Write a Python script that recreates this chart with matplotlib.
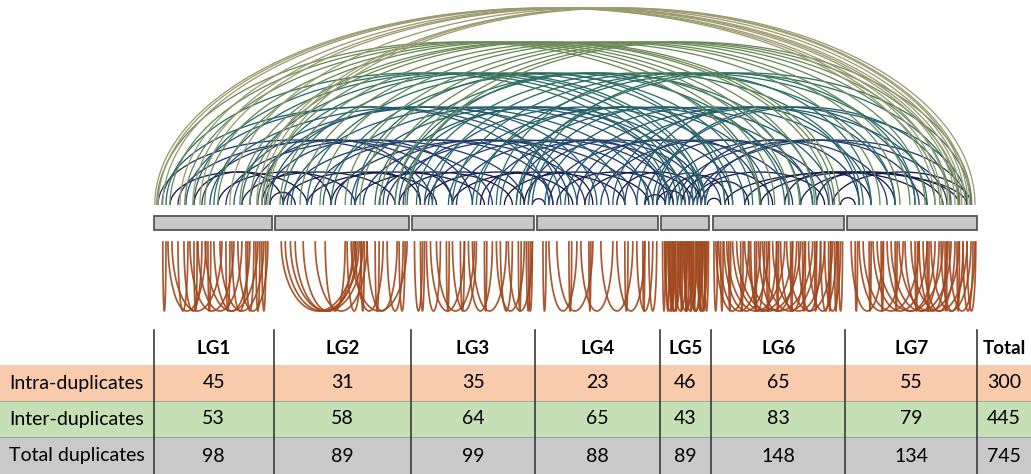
import numpy as np
import matplotlib
matplotlib.use("Agg")
import matplotlib.pyplot as plt
from matplotlib.patches import Rectangle

plt.rcParams['font.family'] = ['Lato', 'DejaVu Sans']

# linkage groups and their lengths (Mb)
lg_names = ["LG1", "LG2", "LG3", "LG4", "LG5", "LG6", "LG7"]
lg_lengths = [29.5, 33.5, 30.3, 30.3, 12.0, 32.8, 32.5]

# duplicate counts per linkage group
intra_counts = [45, 31, 35, 23, 46, 65, 55]
inter_counts = [53, 58, 64, 65, 43, 83, 79]
total_counts = [98, 89, 99, 88, 89, 148, 134]
row_labels = ["Intra-duplicates", "Inter-duplicates", "Total duplicates"]

# inter-chromosomal duplicate pairs: (lg_a, pos_a, lg_b, pos_b), positions in Mb
inter_links = [
    # LG1 - LG7
    (1, 0.2, 7, 22.0), (1, 1.0, 7, 23.7), (1, 2.2, 7, 25.2), (1, 6.5, 7, 27.0),
    (1, 9.7, 7, 27.7), (1, 11.5, 7, 28.7), (1, 19.0, 7, 29.5), (1, 25.7, 7, 30.2),
    (1, 27.0, 7, 30.7), (1, 28.5, 7, 32.0),
    # LG1 - LG6, LG2 - LG7
    (1, 0.7, 6, 11.7), (1, 4.0, 6, 15.5), (1, 7.7, 6, 19.2), (1, 12.7, 6, 21.7),
    (1, 16.0, 6, 25.5), (1, 21.5, 6, 29.2), (1, 24.0, 6, 30.5), (1, 27.7, 6, 31.7),
    (2, 1.2, 7, 8.2), (2, 6.2, 7, 13.2), (2, 11.2, 7, 15.7), (2, 17.5, 7, 19.5),
    (2, 21.2, 7, 23.2), (2, 26.2, 7, 25.7), (2, 30.0, 7, 28.2), (2, 32.5, 7, 31.2),
    # LG1 - LG5, LG2 - LG6, LG3 - LG7
    (1, 3.0, 5, 2.0), (1, 10.0, 5, 5.0), (1, 15.0, 5, 8.0), (1, 22.0, 5, 10.0),
    (1, 27.0, 5, 11.0),
    (2, 2.0, 6, 5.0), (2, 8.0, 6, 10.0), (2, 14.0, 6, 18.0), (2, 20.0, 6, 3.0),
    (2, 25.0, 6, 26.0), (2, 30.0, 6, 22.0), (2, 33.0, 6, 12.0),
    (3, 1.0, 7, 4.0), (3, 5.0, 7, 12.0), (3, 10.0, 7, 20.0), (3, 16.0, 7, 28.0),
    (3, 21.0, 7, 6.0), (3, 26.0, 7, 31.0), (3, 29.0, 7, 17.0),
    # LG1 - LG4, LG2 - LG5, LG3 - LG6, LG4 - LG7
    (1, 2.0, 4, 10.0), (1, 8.0, 4, 3.0), (1, 14.0, 4, 22.0), (1, 20.0, 4, 28.0),
    (1, 26.0, 4, 15.0), (1, 29.0, 4, 6.0),
    (2, 4.0, 5, 2.0), (2, 12.0, 5, 6.0), (2, 19.0, 5, 9.0), (2, 27.0, 5, 11.0),
    (2, 31.0, 5, 4.0),
    (3, 3.0, 6, 8.0), (3, 9.0, 6, 25.0), (3, 15.0, 6, 14.0), (3, 22.0, 6, 30.0),
    (3, 27.0, 6, 3.0), (3, 30.0, 6, 19.0),
    (4, 2.0, 7, 6.0), (4, 7.0, 7, 22.0), (4, 13.0, 7, 30.0), (4, 19.0, 7, 12.0),
    (4, 25.0, 7, 3.0), (4, 29.0, 7, 26.0), (4, 30.0, 7, 17.0),
    # two groups apart
    (1, 1.0, 3, 5.0), (1, 6.0, 3, 20.0), (1, 12.0, 3, 10.0), (1, 18.0, 3, 28.0),
    (1, 24.0, 3, 2.0), (1, 28.0, 3, 15.0),
    (2, 3.0, 4, 12.0), (2, 9.0, 4, 4.0), (2, 15.0, 4, 25.0), (2, 22.0, 4, 18.0),
    (2, 28.0, 4, 29.0), (2, 32.0, 4, 8.0),
    (3, 4.0, 5, 3.0), (3, 11.0, 5, 7.0), (3, 19.0, 5, 10.0), (3, 26.0, 5, 1.0),
    (3, 29.0, 5, 11.0),
    (4, 3.0, 6, 20.0), (4, 10.0, 6, 5.0), (4, 16.0, 6, 29.0), (4, 22.0, 6, 12.0),
    (4, 27.0, 6, 25.0), (4, 30.0, 6, 2.0),
    (5, 1.0, 7, 10.0), (5, 4.0, 7, 25.0), (5, 7.0, 7, 3.0), (5, 9.0, 7, 30.0),
    (5, 11.0, 7, 18.0),
    # neighbouring groups
    (1, 4.0, 2, 8.0), (1, 10.0, 2, 2.0), (1, 16.0, 2, 20.0), (1, 22.0, 2, 30.0),
    (1, 27.0, 2, 14.0), (1, 29.0, 2, 5.0),
    (2, 2.0, 3, 6.0), (2, 8.0, 3, 18.0), (2, 14.0, 3, 2.0), (2, 20.0, 3, 25.0),
    (2, 26.0, 3, 10.0), (2, 31.0, 3, 28.0),
    (3, 3.0, 4, 9.0), (3, 10.0, 4, 22.0), (3, 17.0, 4, 4.0), (3, 23.0, 4, 28.0),
    (3, 28.0, 4, 14.0), (3, 30.0, 4, 2.0),
    (4, 5.0, 5, 3.0), (4, 12.0, 5, 8.0), (4, 20.0, 5, 10.0), (4, 27.0, 5, 1.0),
    (4, 30.0, 5, 6.0),
    (5, 2.0, 6, 4.0), (5, 5.0, 6, 15.0), (5, 8.0, 6, 28.0), (5, 10.0, 6, 9.0),
    (5, 11.5, 6, 2.0),
    (6, 3.0, 7, 30.0), (6, 8.0, 7, 20.0), (6, 12.0, 7, 28.0), (6, 18.0, 7, 6.0),
    (6, 22.0, 7, 24.0), (6, 26.0, 7, 12.0), (6, 30.0, 7, 31.0), (6, 32.0, 7, 2.0),
]

# intra-chromosomal duplicate pairs per linkage group: (pos_a, pos_b) in Mb
intra_links = [
    [(2.2, 3.0), (4.5, 17.0), (7.5, 12.0), (9.0, 20.0), (10.0, 10.8), (11.0, 22.0),
     (12.8, 26.0), (13.5, 14.2), (15.0, 24.0), (16.5, 27.5), (18.0, 19.0),
     (21.0, 28.5), (23.0, 25.0), (6.0, 8.5), (25.5, 26.5), (19.5, 23.5),
     (3.5, 13.0), (27.0, 28.0)],
    [(1.5, 20.0), (2.5, 21.0), (3.8, 22.0), (5.0, 20.5), (7.0, 19.5), (10.0, 23.0),
     (12.5, 17.5), (18.0, 21.5), (19.0, 33.0), (20.0, 27.0), (21.5, 22.3),
     (23.0, 30.5), (25.0, 26.0), (28.0, 32.0), (31.0, 32.5)],
    [(0.5, 2.5), (2.0, 3.0), (3.5, 7.0), (4.5, 13.0), (6.0, 15.5), (8.5, 9.2),
     (10.0, 16.0), (12.0, 13.0), (14.0, 20.0), (15.0, 23.5), (18.0, 18.6),
     (21.0, 28.0), (22.0, 25.0), (24.0, 30.0), (26.5, 27.2), (28.5, 29.5),
     (29.0, 30.0)],
    [(1.5, 2.3), (3.0, 10.0), (5.0, 14.0), (8.0, 8.7), (11.0, 19.0), (13.0, 13.5),
     (16.0, 24.0), (20.0, 27.0), (22.0, 22.8), (25.0, 29.0), (26.5, 27.0),
     (28.0, 30.0)],
    [(0.3, 1.0), (0.8, 3.5), (1.2, 2.0), (1.6, 5.0), (2.2, 2.8), (3.0, 6.5),
     (3.5, 4.0), (4.2, 8.0), (4.8, 5.3), (5.5, 9.0), (6.0, 6.4), (6.8, 10.5),
     (7.2, 7.6), (8.0, 8.5), (8.8, 11.5), (9.5, 10.0), (10.2, 11.0), (10.8, 11.8),
     (2.6, 3.2), (5.8, 7.0), (7.5, 9.8), (1.9, 4.5), (9.2, 11.2)],
    [(0.3, 1.2), (0.8, 9.0), (1.5, 12.0), (2.0, 2.6), (2.8, 14.0), (3.5, 18.0),
     (4.0, 4.5), (5.0, 20.0), (6.0, 22.0), (7.0, 7.6), (8.0, 25.0), (9.5, 13.0),
     (10.5, 11.0), (11.5, 21.0), (12.5, 26.0), (13.5, 14.2), (15.0, 28.0),
     (16.0, 16.5), (17.0, 23.0), (18.5, 30.0), (19.5, 20.0), (21.5, 27.0),
     (22.5, 23.2), (24.0, 31.0), (25.5, 26.0), (27.0, 29.5), (28.0, 32.0),
     (29.0, 29.6), (30.5, 31.2), (31.5, 32.5), (9.0, 16.0)],
    [(1.0, 9.0), (2.0, 2.6), (3.0, 14.0), (4.0, 18.0), (5.5, 6.0), (6.5, 20.0),
     (7.5, 24.0), (8.5, 9.1), (10.0, 22.0), (11.0, 26.0), (12.0, 12.5),
     (13.0, 28.0), (14.5, 23.0), (16.0, 30.0), (17.0, 17.6), (19.0, 27.0),
     (20.0, 20.5), (21.0, 31.0), (23.5, 29.0), (24.5, 25.0), (25.5, 32.0),
     (27.5, 28.1), (29.0, 31.5), (30.0, 32.2), (18.0, 25.0)],
]

# arc heights (px) and colours by how many groups apart the pair is
level_heights = [33, 65, 98, 132, 163, 197]
level_colors = ["#171a48", "#243a6c", "#245b70", "#2d6e65", "#6c8a58", "#9c9b70"]
intra_color = "#a0461c"

W, H = 1031, 474
fig = plt.figure(figsize=(W / 100, H / 100), dpi=100)
ax = fig.add_axes([0, 0, 1, 1])
ax.axis("off")

gap = 0.85
starts = np.concatenate([[0], np.cumsum(np.array(lg_lengths) + gap)[:-1]])
genome_end = starts[-1] + lg_lengths[-1]
x0_px, x1_px = 154, 977
mb_px = (x1_px - x0_px) / genome_end
x_left = -x0_px / mb_px
x_right = (W - x0_px) / mb_px
ax.set_xlim(x_left, x_right)
ax.set_ylim(H, 0)

t = np.linspace(0, np.pi, 160)

# inter-group arcs above the bars
arc_base = 205
for d in range(1, 7):
    for a, pa, b, pb in inter_links:
        if abs(b - a) != d:
            continue
        xa = starts[a - 1] + pa
        xb = starts[b - 1] + pb
        c, r = (xa + xb) / 2, abs(xb - xa) / 2
        h = min(level_heights[d - 1], r * mb_px)
        ax.plot(c + r * np.cos(t), arc_base - h * np.sin(t),
                color=level_colors[d - 1], lw=0.95, solid_capstyle="butt")

# linkage group bars
for s, L in zip(starts, lg_lengths):
    ax.add_patch(Rectangle((s, 216), L, 14, facecolor="#c8c8c8",
                           edgecolor="#555555", lw=1.3))

# intra-group arcs hanging below the bars
intra_top, intra_depth = 242, 69
for s, pairs in zip(starts, intra_links):
    for pa, pb in pairs:
        c, r = s + (pa + pb) / 2, abs(pb - pa) / 2
        ax.plot(c + r * np.cos(t), intra_top + intra_depth * np.sin(t),
                color=intra_color, lw=1.25, alpha=0.9)

# summary table
col_edges = [0.0] + [s - gap / 2 for s in starts[1:]] + [genome_end]
row_tops = [365, 401, 437]
row_bottoms = [401, 437, H]
row_colors = ["#f8cbad", "#c5e0b4", "#c9c9c9"]
row_values = [intra_counts + [sum(intra_counts)],
              inter_counts + [sum(inter_counts)],
              total_counts + [sum(total_counts)]]

for top, bot, col in zip(row_tops, row_bottoms, row_colors):
    ax.add_patch(Rectangle((x_left, top), x_right - x_left, bot - top,
                           facecolor=col, edgecolor="none", zorder=1))
for y in row_tops[1:]:
    ax.plot([x_left, x_right], [y, y], color="#9a9a9a", lw=0.6, zorder=2)
for xe in col_edges:
    ax.plot([xe, xe], [330, H], color="#3a3a3a", lw=1.2, zorder=3)

centers = [(col_edges[i] + col_edges[i + 1]) / 2 for i in range(7)]
centers.append((genome_end + x_right) / 2)
for cx, name in zip(centers, lg_names + ["Total"]):
    ax.text(cx, 348, name, ha="center", va="center", fontsize=13.5,
            fontweight="bold", color="black", zorder=4)

row_text_y = [383, 419, 456]
for y, label, vals in zip(row_text_y, row_labels, row_values):
    ax.text(x_left + 9 / mb_px, y, label, ha="left", va="center",
            fontsize=14, color="black", zorder=4)
    for cx, v in zip(centers, vals):
        ax.text(cx, y, str(v), ha="center", va="center", fontsize=14,
                color="black", zorder=4)

fig.savefig("out.png", dpi=100)
